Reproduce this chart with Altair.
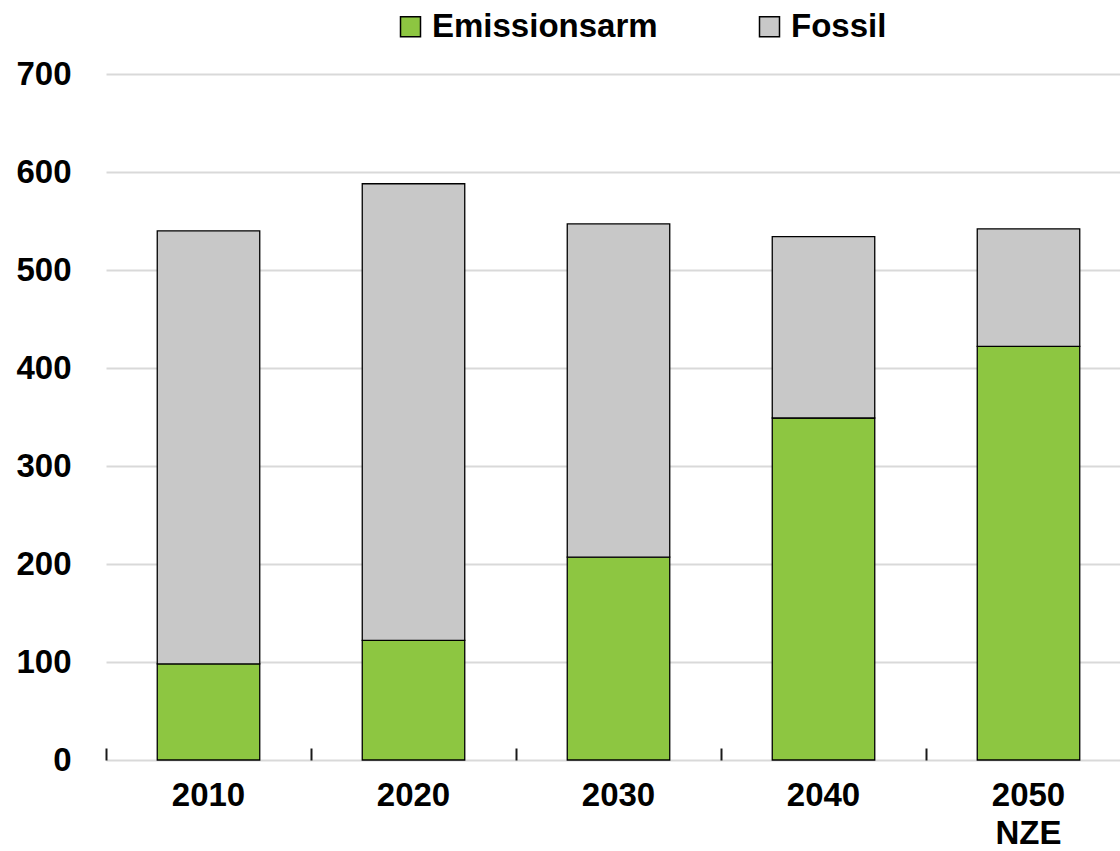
import altair as alt
import pandas as pd

years = ["2010", "2020", "2030", "2040", "2050 NZE"]
emissionsarm = [98, 122, 207, 349, 422]
fossil = [442, 466, 340, 185, 120]
series = ["Emissionsarm", "Fossil"]
colors = ["#8DC641", "#C8C8C8"]

rows = []
for i, y in enumerate(years):
    rows.append({"year": y, "source": series[0], "value": emissionsarm[i], "rank": 0})
    rows.append({"year": y, "source": series[1], "value": fossil[i], "rank": 1})
df = pd.DataFrame(rows)

FONT = "Liberation Sans, Arial, sans-serif"
FS = 33

x_scale = alt.Scale(range=[0, 1025], paddingInner=0.5, paddingOuter=0.25)

# Category labels (no ticks of their own)
label_axis = alt.Axis(
    title=None,
    orient="bottom",
    labelAngle=0,
    labelExpr="split(datum.label, ' ')",
    labelFontSize=FS,
    labelLineHeight=38,
    labelPadding=19,
    labelColor="black",
    domain=False,
    ticks=False,
    grid=False,
)

# Separator ticks between categories, pointing up from the baseline
tick_axis = alt.Axis(
    title=None,
    orient="bottom",
    labels=False,
    domain=False,
    ticks=True,
    bandPosition=0,
    tickOffset=-51.25,
    tickSize=12,
    tickWidth=2,
    tickColor="#1a1a1a",
    offset=-12,
    grid=False,
)

bars = alt.Chart(df).mark_bar(stroke="black", strokeWidth=1.3).encode(
    x=alt.X("year:N", sort=years, scale=x_scale, axis=label_axis),
    y=alt.Y(
        "value:Q",
        stack="zero",
        scale=alt.Scale(domain=[0, 700], nice=False),
        axis=alt.Axis(
            title=None,
            values=[0, 100, 200, 300, 400, 500, 600, 700],
            labelFontSize=FS,
            labelPadding=35,
            labelColor="black",
            domain=False,
            ticks=False,
            grid=True,
            gridColor="#D9D9D9",
            gridWidth=2,
        ),
    ),
    color=alt.Color(
        "source:N",
        scale=alt.Scale(domain=series, range=colors),
        legend=alt.Legend(
            title=None,
            orient="none",
            direction="horizontal",
            legendX=288,
            legendY=-64,
            padding=0,
            symbolType="square",
            symbolSize=400,
            symbolStrokeColor="black",
            symbolStrokeWidth=1.5,
            labelFontSize=FS,
            labelColor="black",
            labelOffset=5,
            labelLimit=0,
            columnPadding=95,
        ),
    ),
    order=alt.Order("rank:Q"),
)

baseline = alt.Chart(df).mark_rule(color="#333333", strokeWidth=2).encode(
    x=alt.X("year:N", sort=years, scale=x_scale, axis=tick_axis),
    y=alt.datum(0),
)

chart = (
    alt.layer(bars, baseline)
    .resolve_axis(x="independent")
    .properties(
        width=1014,
        height=686,
        autosize=alt.AutoSizeParams(type="none"),
        padding={"left": 106, "top": 74, "right": 0, "bottom": 91},
    )
    .configure(font=FONT)
    .configure_axis(labelFont=FONT, labelFontWeight="bold")
    .configure_legend(labelFont=FONT, labelFontWeight="bold")
    .configure_view(stroke=None)
)

chart.save("out.html", embed_options={"renderer": "svg", "actions": False})
